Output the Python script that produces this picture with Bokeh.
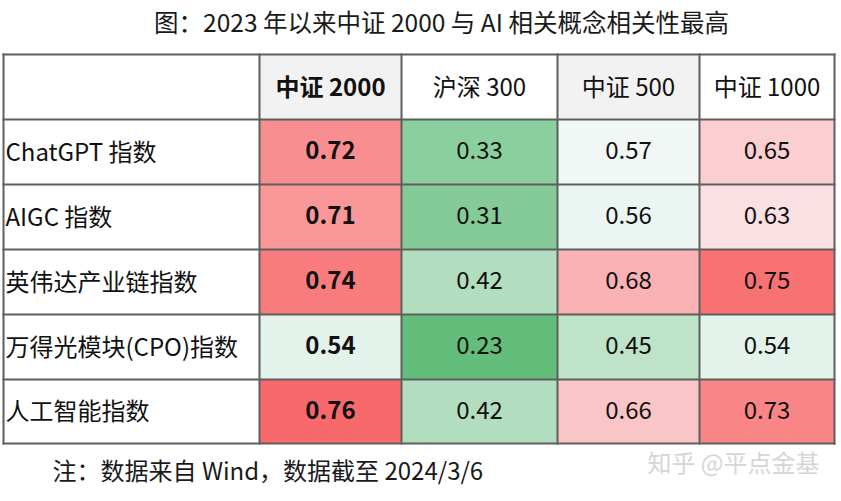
from bokeh.plotting import figure
from bokeh.models import Range1d, ColumnDataSource
from bokeh.core.properties import value
from bokeh.embed import file_html
from bokeh.resources import INLINE

# ---------------- data ----------------
title = "图：2023 年以来中证 2000 与 AI 相关概念相关性最高"
note = "注：数据来自 Wind，数据截至 2024/3/6"
watermark = "知乎 @平点金基"
columns = ["中证 2000", "沪深 300", "中证 500", "中证 1000"]
rows = ["ChatGPT 指数", "AIGC 指数", "英伟达产业链指数", "万得光模块(CPO)指数", "人工智能指数"]
csi2000 = [0.72, 0.71, 0.74, 0.54, 0.76]
hs300 = [0.33, 0.31, 0.42, 0.23, 0.42]
csi500 = [0.57, 0.56, 0.68, 0.45, 0.66]
csi1000 = [0.65, 0.63, 0.75, 0.54, 0.73]
series = [csi2000, hs300, csi500, csi1000]

# ---------------- layout (screen pixels) ----------------
FONT = "Noto Sans CJK SC"
col_edges = [3, 259, 401, 557, 699, 834]
row_edges = [54, 119, 184, 249, 314, 379, 443]
header_fill = ["#ffffff", "#f2f2f2", "#ffffff", "#f2f2f2", "#ffffff"]
LINE = "#5f5f5f"
DY = -2  # vertical text nudge

# Excel-like 3-colour scale: green (min) - white (median) - red (max)
all_vals = sorted(v for s in series for v in s)
vmin, vmax = all_vals[0], all_vals[-1]
n = len(all_vals)
vmid = (all_vals[n // 2 - 1] + all_vals[n // 2]) / 2 if n % 2 == 0 else all_vals[n // 2]
C_LO, C_MID, C_HI = (99, 190, 123), (252, 252, 255), (248, 105, 107)


def scale_color(v):
    if v <= vmid:
        t = (vmid - v) / (vmid - vmin)
        a, b = C_MID, C_LO
    else:
        t = (v - vmid) / (vmax - vmid)
        a, b = C_MID, C_HI
    c = [round(a[i] + (b[i] - a[i]) * t) for i in range(3)]
    return "#%02x%02x%02x" % tuple(c)


W, H = 841, 501
p = figure(width=W, height=H, output_backend="svg", toolbar_location=None,
           x_range=Range1d(0, W), y_range=Range1d(H, 0),
           min_border=0, background_fill_color="white", border_fill_color="white")
p.axis.visible = False
p.grid.visible = False
p.outline_line_color = None

# header backgrounds
hl, hr, ht, hb = [], [], [], []
for j in range(5):
    hl.append(col_edges[j]); hr.append(col_edges[j + 1])
    ht.append(row_edges[0]); hb.append(row_edges[1])
p.quad(left=hl, right=hr, top=ht, bottom=hb, fill_color=header_fill, line_color=None)

# data cells
cl, cr, ct, cb, cc, cx, cy, ctxt = [], [], [], [], [], [], [], []
for j, s in enumerate(series):
    for i, v in enumerate(s):
        l, r = col_edges[j + 1], col_edges[j + 2]
        t, b = row_edges[i + 1], row_edges[i + 2]
        cl.append(l); cr.append(r); ct.append(t); cb.append(b)
        cc.append(scale_color(v))
        cx.append((l + r) / 2); cy.append((t + b) / 2 + DY)
        ctxt.append("%.2f" % v)
p.quad(left=cl, right=cr, top=ct, bottom=cb, fill_color=cc, line_color=None)

# grid lines
xs0, xs1, ys0, ys1 = [], [], [], []
for x in col_edges:
    xs0.append(x); xs1.append(x); ys0.append(row_edges[0] - 1); ys1.append(row_edges[-1] + 1)
for y in row_edges:
    xs0.append(col_edges[0] - 1); xs1.append(col_edges[-1] + 1); ys0.append(y); ys1.append(y)
p.segment(x0=xs0, y0=ys0, x1=xs1, y1=ys1, line_color=LINE, line_width=2)

FS = "24px"
# numbers: first column bold
src_bold = ColumnDataSource(dict(x=cx[:5], y=cy[:5], t=ctxt[:5]))
src_norm = ColumnDataSource(dict(x=cx[5:], y=cy[5:], t=ctxt[5:]))
p.text(x="x", y="y", text="t", source=src_bold, text_font=value(FONT), text_font_style="bold",
       text_font_size=FS, text_align="center", text_baseline="middle", text_color="#111111")
p.text(x="x", y="y", text="t", source=src_norm, text_font=value(FONT),
       text_font_size=FS, text_align="center", text_baseline="middle", text_color="#111111")

# header texts
hx = [(col_edges[j + 1] + col_edges[j + 2]) / 2 for j in range(4)]
hy = [(row_edges[0] + row_edges[1]) / 2 + DY] * 4
p.text(x=hx[:1], y=hy[:1], text=columns[:1], text_font=value(FONT), text_font_style="bold",
       text_font_size=FS, text_align="center", text_baseline="middle", text_color="#111111")
p.text(x=hx[1:], y=hy[1:], text=columns[1:], text_font=value(FONT),
       text_font_size=FS, text_align="center", text_baseline="middle", text_color="#111111")

# row labels
rx = [col_edges[0] + 2] * len(rows)
ry = [(row_edges[i + 1] + row_edges[i + 2]) / 2 + DY for i in range(len(rows))]
p.text(x=rx, y=ry, text=rows, text_font=value(FONT), text_font_size=FS,
       text_align="left", text_baseline="middle", text_color="#111111")

# title, note, watermark
p.text(x=[441], y=[21], text=[title], text_font=value(FONT), text_font_size="24.5px",
       text_align="center", text_baseline="middle", text_color="#1a1a1a")
p.text(x=[52], y=[469], text=[note], text_font=value(FONT), text_font_size="24px",
       text_align="left", text_baseline="middle", text_color="#1a1a1a")
p.text(x=[733], y=[461], text=[watermark], text_font=value(FONT), text_font_size="24px",
       text_align="center", text_baseline="middle", text_color="#cfcfcf", text_alpha=0.9)

open("out.html", "w").write(file_html(p, INLINE))
